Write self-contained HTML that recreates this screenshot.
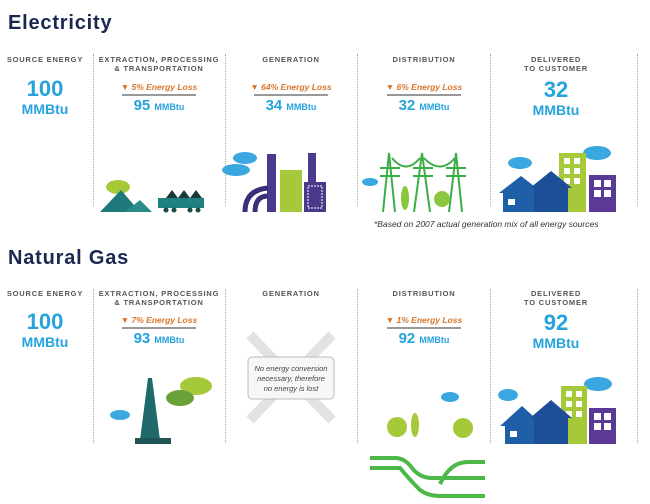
<!DOCTYPE html>
<html><head><meta charset="utf-8">
<style>
body{margin:0;width:650px;height:504px;background:#fff;font-family:"Liberation Sans",sans-serif;position:relative;overflow:hidden}
.a{position:absolute}
.t{font-weight:bold;color:#1a2850;font-size:20px;letter-spacing:0.8px}
.h{font-size:7.5px;font-weight:bold;color:#555;letter-spacing:0.8px;text-align:center;line-height:9px;width:130px}
.loss{font-size:8.5px;font-style:italic;font-weight:bold;color:#d8752a;text-align:center;width:130px}
.ln{height:2px;background:#999;width:74px}
.val{color:#26a3dc;font-weight:bold;text-align:center;width:130px;font-size:15px}
.val small{font-size:9px}
.big{color:#26a3dc;font-weight:bold;text-align:center;width:130px;font-size:22px;line-height:20px}
.big small{font-size:14px;display:block;line-height:20px}
.dv{border-left:1px dotted #aaa;width:0}
</style></head><body>
<div class="a t" style="left:8px;top:12px">Electricity</div>
<div class="a t" style="left:8px;top:247px">Natural Gas</div>

<div class="a dv" style="left:93px;top:54px;height:152px"></div>
<div class="a dv" style="left:225px;top:54px;height:152px"></div>
<div class="a dv" style="left:357px;top:54px;height:152px"></div>
<div class="a dv" style="left:490px;top:54px;height:152px"></div>
<div class="a dv" style="left:637px;top:54px;height:152px"></div>
<div class="a dv" style="left:93px;top:289px;height:154px"></div>
<div class="a dv" style="left:225px;top:289px;height:154px"></div>
<div class="a dv" style="left:357px;top:289px;height:154px"></div>
<div class="a dv" style="left:490px;top:289px;height:154px"></div>
<div class="a dv" style="left:637px;top:289px;height:154px"></div>

<div class="a h" style="left:-20px;top:55px">SOURCE ENERGY</div>
<div class="a h" style="left:94px;top:55px">EXTRACTION, PROCESSING<br>&amp; TRANSPORTATION</div>
<div class="a h" style="left:226px;top:55px">GENERATION</div>
<div class="a h" style="left:359px;top:55px">DISTRIBUTION</div>
<div class="a h" style="left:491px;top:55px">DELIVERED<br>TO CUSTOMER</div>

<div class="a big" style="left:-20px;top:79px">100<small>MMBtu</small></div>
<div class="a loss" style="left:94px;top:82px">▼ 5% Energy Loss</div>
<div class="a ln" style="left:122px;top:94px"></div>
<div class="a val" style="left:94px;top:97px">95 <small>MMBtu</small></div>
<div class="a loss" style="left:226px;top:82px">▼ 64% Energy Loss</div>
<div class="a ln" style="left:254px;top:94px"></div>
<div class="a val" style="left:226px;top:97px">34 <small>MMBtu</small></div>
<div class="a loss" style="left:359px;top:82px">▼ 6% Energy Loss</div>
<div class="a ln" style="left:387px;top:94px"></div>
<div class="a val" style="left:359px;top:97px">32 <small>MMBtu</small></div>
<div class="a big" style="left:491px;top:80px">32<small>MMBtu</small></div>
<div class="a" style="left:374px;top:219px;font-size:8.5px;font-style:italic;color:#333">*Based on 2007 actual generation mix of all energy sources</div>

<div class="a h" style="left:-20px;top:289px">SOURCE ENERGY</div>
<div class="a h" style="left:94px;top:289px">EXTRACTION, PROCESSING<br>&amp; TRANSPORTATION</div>
<div class="a h" style="left:226px;top:289px">GENERATION</div>
<div class="a h" style="left:359px;top:289px">DISTRIBUTION</div>
<div class="a h" style="left:491px;top:289px">DELIVERED<br>TO CUSTOMER</div>

<div class="a big" style="left:-20px;top:312px">100<small>MMBtu</small></div>
<div class="a loss" style="left:94px;top:315px">▼ 7% Energy Loss</div>
<div class="a ln" style="left:122px;top:327px"></div>
<div class="a val" style="left:94px;top:330px">93 <small>MMBtu</small></div>
<div class="a loss" style="left:359px;top:315px">▼ 1% Energy Loss</div>
<div class="a ln" style="left:387px;top:327px"></div>
<div class="a val" style="left:359px;top:330px">92 <small>MMBtu</small></div>
<div class="a big" style="left:491px;top:313px">92<small>MMBtu</small></div>

<svg class="a" style="left:0;top:0" width="650" height="504">
<g>
<ellipse cx="118" cy="187" rx="12" ry="7" fill="#a6c93a"/>
<polygon points="100,212 121,190 140,212" fill="#1e7a7a"/>
<polygon points="125,212 140,200 152,212" fill="#2b8c8c"/>
</g>
<g>
<rect x="158" y="198" width="46" height="10" fill="#1e8080"/>
<polygon points="166,198 172,190 178,198" fill="#1a3a3a"/><polygon points="178,198 184,190 190,198" fill="#1a3a3a"/><polygon points="190,198 196,190 202,198" fill="#1a3a3a"/>
<circle cx="166" cy="210" r="2.5" fill="#1a4a4a"/><circle cx="174" cy="210" r="2.5" fill="#1a4a4a"/><circle cx="190" cy="210" r="2.5" fill="#1a4a4a"/><circle cx="198" cy="210" r="2.5" fill="#1a4a4a"/>
</g>
<g>
<ellipse cx="245" cy="158" rx="12" ry="6" fill="#3aa7e0"/><ellipse cx="236" cy="170" rx="14" ry="6" fill="#3aa7e0"/>
<rect x="267" y="154" width="9" height="58" fill="#4b3a8c"/>
<rect x="308" y="153" width="8" height="59" fill="#4b3a8c"/>
<rect x="280" y="170" width="22" height="42" fill="#a6c93a"/>
<rect x="304" y="182" width="22" height="30" fill="#4b3a8c"/>
<rect x="308" y="186" width="14" height="22" fill="none" stroke="#fff" stroke-width="1" stroke-dasharray="2 1"/>
<path d="M245 212 Q245 190 268 188" stroke="#3b2f7a" stroke-width="5" fill="none"/>
<path d="M255 212 Q255 196 268 196" stroke="#3b2f7a" stroke-width="5" fill="none"/>
</g>
<g fill="none" stroke="#3cae48" stroke-width="2">
<ellipse cx="370" cy="182" rx="8" ry="4" fill="#3aa7e0" stroke="none"/>
<path d="M383 212 L389 153 L395 212 M414 212 L422 153 L430 212 M449 212 L456 153 L462 212"/>
<path d="M380 168 H400 M413 168 H433 M446 168 H466 M380 176 H400 M413 176 H433 M446 176 H466"/>
<path d="M392 158 Q406 175 420 158 M424 158 Q440 175 455 158"/>
<ellipse cx="405" cy="198" rx="4" ry="12" fill="#8cc63f" stroke="none"/>
<circle cx="442" cy="199" r="8" fill="#8cc63f" stroke="none"/>
</g>
<g>
<ellipse cx="520" cy="163" rx="12" ry="6" fill="#3aa7e0"/>
<ellipse cx="597" cy="153" rx="14" ry="7" fill="#3aa7e0"/>
<rect x="559" y="153" width="27" height="59" fill="#a6c93a"/>
<g fill="#fff"><rect x="564" y="158" width="6" height="6"/><rect x="574" y="158" width="6" height="6"/><rect x="564" y="168" width="6" height="6"/><rect x="574" y="168" width="6" height="6"/><rect x="564" y="178" width="6" height="6"/><rect x="574" y="178" width="6" height="6"/></g>
<rect x="589" y="175" width="27" height="37" fill="#5a3a96"/>
<g fill="#fff"><rect x="594" y="180" width="7" height="7"/><rect x="604" y="180" width="7" height="7"/><rect x="594" y="190" width="7" height="7"/><rect x="604" y="190" width="7" height="7"/></g>
<polygon points="499,193 521,176 543,193 543,212 503,212 503,193" fill="#1e5fa8"/>
<polygon points="530,188 551,171 572,188 568,188 568,212 534,212 534,188" fill="#1d4f98"/>
<rect x="508" y="199" width="7" height="6" fill="#fff"/>
</g>
<g>
<ellipse cx="120" cy="415" rx="10" ry="5" fill="#3aa7e0"/>
<ellipse cx="196" cy="386" rx="16" ry="9" fill="#a6c93a"/><ellipse cx="180" cy="398" rx="14" ry="8" fill="#6aa23a"/>
<polygon points="140,440 148,378 152,378 160,440" fill="#1e6a6a"/>
<rect x="135" y="438" width="36" height="6" fill="#1e5555"/>
</g>
<g>
<path d="M250 335 L332 420 M332 335 L250 420" stroke="#e2e2e2" stroke-width="10"/>
<rect x="248" y="357" width="86" height="42" rx="4" fill="#f7f7f7" stroke="#bbb"/>
<text x="291" y="371" font-size="7.5" font-style="italic" fill="#444" text-anchor="middle">No energy conversion</text>
<text x="291" y="381" font-size="7.5" font-style="italic" fill="#444" text-anchor="middle">necessary, therefore</text>
<text x="291" y="391" font-size="7.5" font-style="italic" fill="#444" text-anchor="middle">no energy is lost</text>
</g>
<g fill="none">
<ellipse cx="450" cy="397" rx="9" ry="5" fill="#3aa7e0"/>
<circle cx="397" cy="427" r="10" fill="#a6c93a"/><ellipse cx="415" cy="425" rx="4" ry="12" fill="#a6c93a"/><circle cx="463" cy="428" r="10" fill="#a6c93a"/>
<path d="M370 458 H395 Q405 458 412 468 Q420 478 432 478 H485" stroke="#4cb848" stroke-width="4"/>
<path d="M370 468 H400 Q410 480 420 490 Q428 496 440 496 H485" stroke="#4cb848" stroke-width="4"/>
<path d="M440 484 Q450 462 468 462 H485" stroke="#4cb848" stroke-width="4"/>
</g>
<g>
<ellipse cx="508" cy="395" rx="10" ry="6" fill="#3aa7e0"/>
<ellipse cx="598" cy="384" rx="14" ry="7" fill="#3aa7e0"/>
<rect x="561" y="386" width="26" height="58" fill="#a6c93a"/>
<g fill="#fff"><rect x="566" y="391" width="6" height="6"/><rect x="576" y="391" width="6" height="6"/><rect x="566" y="401" width="6" height="6"/><rect x="576" y="401" width="6" height="6"/><rect x="566" y="411" width="6" height="6"/><rect x="576" y="411" width="6" height="6"/></g>
<rect x="589" y="408" width="27" height="36" fill="#5a3a96"/>
<g fill="#fff"><rect x="594" y="413" width="7" height="7"/><rect x="604" y="413" width="7" height="7"/><rect x="594" y="423" width="7" height="7"/><rect x="604" y="423" width="7" height="7"/></g>
<polygon points="500,426 522,406 544,426 544,444 505,444 505,426" fill="#1e5fa8"/>
<polygon points="530,418 551,400 572,418 568,418 568,444 534,444 534,418" fill="#1d4f98"/>
<rect x="510" y="431" width="7" height="6" fill="#fff"/>
</g>
</svg>
</body></html>
